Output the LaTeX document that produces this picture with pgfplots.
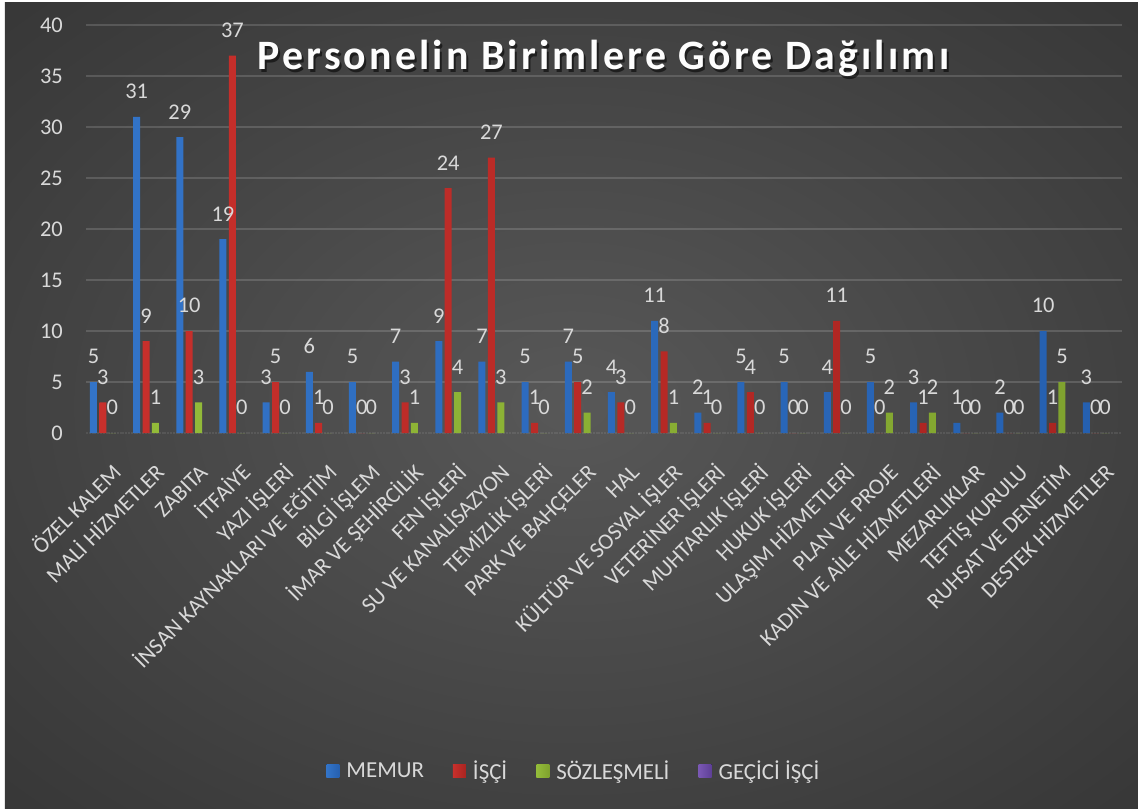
\documentclass[border=0pt]{standalone}
\usepackage{pgfplots}
\pgfplotsset{compat=1.18}
\usepackage{pgfplotstable}
\usepackage{fontspec}
\setmainfont{Carlito}
\newfontfamily\titlefont{Carlito}[LetterSpace=7.5]
\definecolor{bgin}{HTML}{585858}
\definecolor{bgmid}{HTML}{3C3C3C}
\definecolor{bgout}{HTML}{202020}
\definecolor{lbl}{HTML}{D9D9D9}
\definecolor{cblue}{HTML}{4A90E2}
\definecolor{cbluel}{HTML}{3374C8}
\definecolor{cbluedk}{HTML}{2560B0}
\definecolor{cred}{HTML}{E2453F}
\definecolor{credl}{HTML}{C8302C}
\definecolor{creddk}{HTML}{A82420}
\definecolor{cgreen}{HTML}{B0D64E}
\definecolor{cgreenl}{HTML}{94BC3A}
\definecolor{cgreendk}{HTML}{7FA22E}
\definecolor{cpurp}{HTML}{9270CC}
\definecolor{cpurpl}{HTML}{7A58B4}
\definecolor{cpurpdk}{HTML}{5E3F96}
\pgfdeclareradialshading{bgshade}{\pgfpoint{0bp}{0bp}}{color(0bp)=(bgin); color(30bp)=(bgmid); color(62bp)=(bgout); color(75bp)=(bgout)}

\pgfplotstableread{
x memur isci soz gecici
0 5 3 0 0
1 31 9 1 0
2 29 10 3 0
3 19 37 0 0
4 3 5 0 0
5 6 1 0 0
6 5 0 0 0
7 7 3 1 0
8 9 24 4 0
9 7 27 3 0
10 5 1 0 0
11 7 5 2 0
12 4 3 0 0
13 11 8 1 0
14 2 1 0 0
15 5 4 0 0
16 5 0 0 0
17 4 11 0 0
18 5 0 2 0
19 3 1 2 0
20 1 0 0 0
21 2 0 0 0
22 10 1 5 0
23 3 0 0 0
}\data

\begin{document}
\begin{tikzpicture}
\useasboundingbox (-86bp,-376bp) rectangle (1052bp,433bp);
\fill[white] (-86bp,-376bp) rectangle (1052bp,433bp);
\shade[shading=bgshade] (-81bp,-376bp) rectangle (1052bp,430bp);
\begin{axis}[
  at={(0,0)}, anchor=south west, scale only axis,
  width=1036bp, height=408bp,
  xmin=-0.5, xmax=23.5, ymin=0, ymax=40,
  ybar=2.4bp, bar width=7bp,
  axis line style={draw=none},
  major tick length=0pt,
  ytick={5,10,...,40},
  extra y ticks={0},
  extra y tick style={grid=major, major grid style={draw=lbl!80!black, line width=2bp, dash pattern=on 2bp off 0.8bp}},
  ymajorgrids,
  major grid style={draw=white, draw opacity=0.15, line width=1.4bp},
  xtick={0,...,23},
  xticklabels={ÖZEL KALEM, MALİ HİZMETLER, ZABITA, İTFAİYE, YAZI İŞLERİ, İNSAN KAYNAKLARI VE EĞİTİM, BİLGİ İŞLEM, İMAR VE ŞEHİRCİLİK, FEN İŞLERİ, SU VE KANALİSAZYON, TEMİZLİK İŞLERİ, PARK VE BAHÇELER, HAL, KÜLTÜR VE SOSYAL İŞLER, VETERİNER İŞLERİ, MUHTARLIK İŞLERİ, HUKUK İŞLERİ, ULAŞIM HİZMETLERİ, PLAN VE PROJE, KADIN VE AİLE HİZMETLERİ, MEZARLIKLAR, TEFTİŞ KURULU, RUHSAT VE DENETİM, DESTEK HİZMETLER},
  /pgf/number format/assume math mode=true,
  ticklabel style={text=lbl},
  yticklabel style={font=\fontsize{22.5}{26}\selectfont, inner sep=0pt, xshift=-23bp},
  xticklabel style={font=\fontsize{22.5}{26}\selectfont, xshift=15bp, yshift=-41bp, rotate=45, anchor=base east, inner sep=0pt},
  every node near coord/.append style={font=\fontsize{22.5}{26}\selectfont, text=lbl, inner sep=0pt, yshift=18bp},
  legend style={at={(0.471,-0.828)}, anchor=center, draw=none, fill=none, text=lbl, font=\fontsize{23}{26}\selectfont, legend columns=4,
    /tikz/every odd column/.append style={column sep=5bp},
    /tikz/every even column/.append style={column sep=27bp}},
  legend image code/.code={\fill[#1] (0bp,-6.5bp) rectangle (13bp,6.5bp);},
]
\addplot[draw=none, left color=cbluel, middle color=cblue, right color=cbluedk, nodes near coords] table[x=x,y=memur]{\data};
\addplot[draw=none, left color=credl, middle color=cred, right color=creddk, nodes near coords] table[x=x,y=isci]{\data};
\addplot[draw=none, left color=cgreenl, middle color=cgreen, right color=cgreendk, nodes near coords] table[x=x,y=soz]{\data};
\addplot[draw=none, left color=cpurpl, middle color=cpurp, right color=cpurpdk] table[x=x,y=gecici]{\data};
\legend{MEMUR, İŞÇİ, SÖZLEŞMELİ, GEÇİCİ İŞÇİ}
\end{axis}
\node[anchor=base, text=black, opacity=0.55] at (519.5bp,360.5bp) {\titlefont\bfseries\fontsize{42}{48}\selectfont Personelin Birimlere Göre Dağılımı};
\node[anchor=base, text=white!95!lbl] at (517.5bp,363bp) {\titlefont\bfseries\fontsize{42}{48}\selectfont Personelin Birimlere Göre Dağılımı};
\end{tikzpicture}
\end{document}
